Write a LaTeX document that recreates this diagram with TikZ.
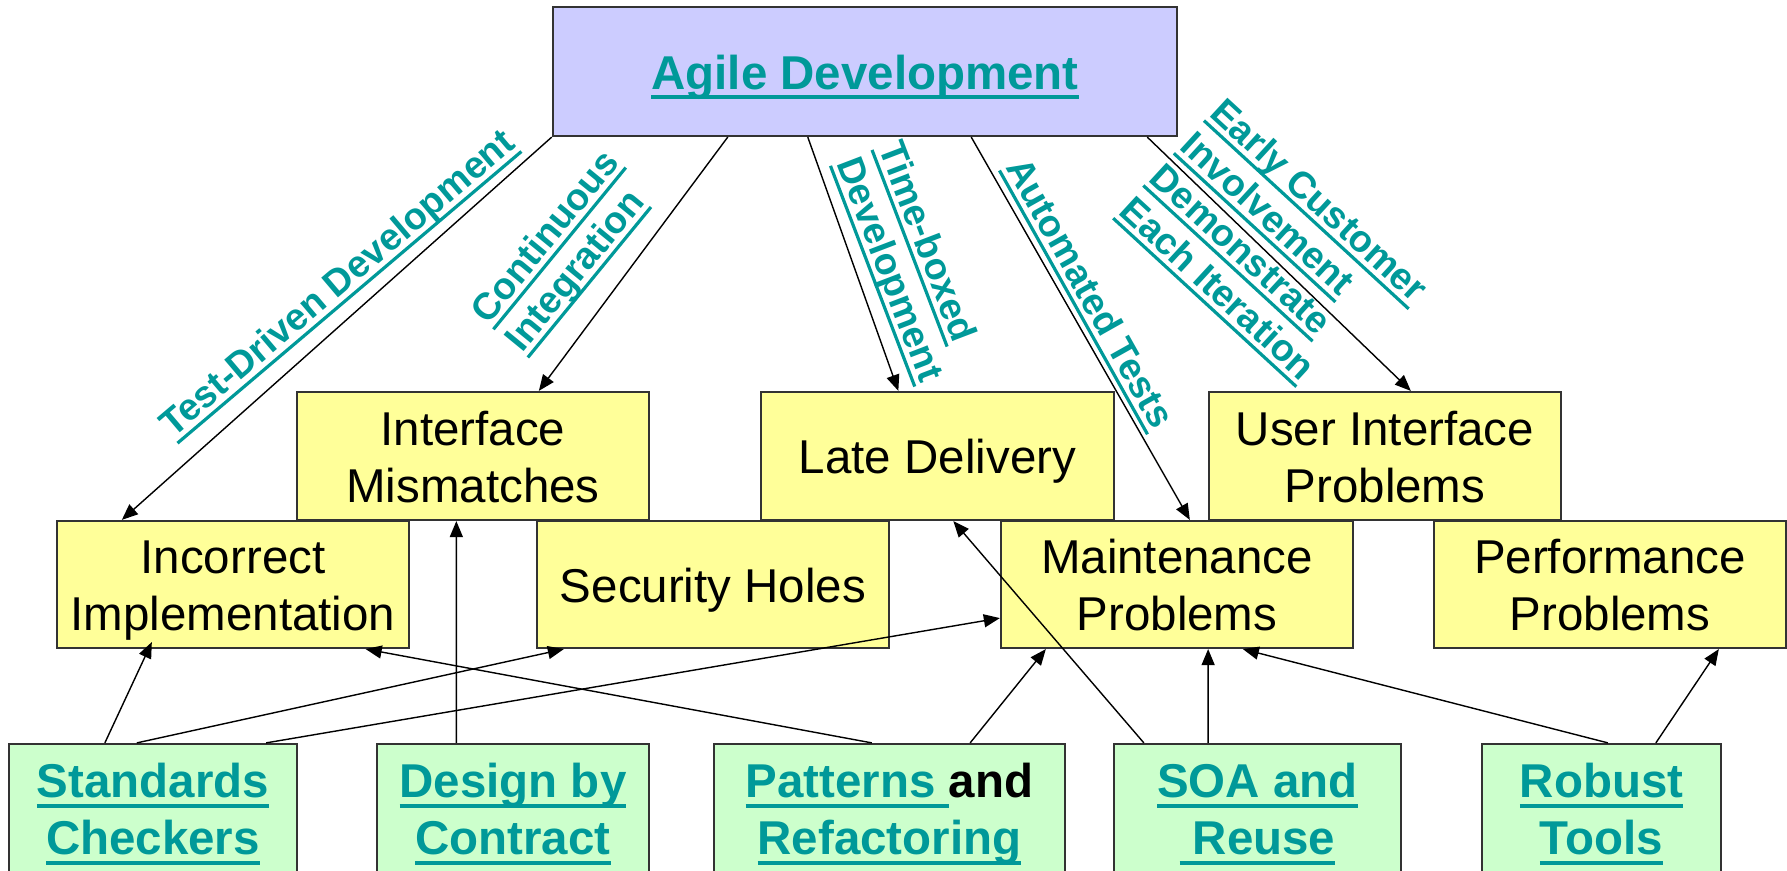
\documentclass[tikz,border=0pt]{standalone}
\usepackage{fontspec}
\setmainfont{Liberation Sans}
\usetikzlibrary{arrows.meta, calc}

\definecolor{linkteal}{RGB}{0,153,153}
\definecolor{rootfill}{RGB}{204,204,255}
\definecolor{issuefill}{RGB}{255,255,153}
\definecolor{practicefill}{RGB}{204,255,204}

% underlined link text
\newcommand{\lnk}[1]{\setbox0\hbox{#1}\rlap{\rule[-0.22em]{\wd0}{0.085em}}\box0}
% line strut, so one- and two-line boxes sit alike
\newcommand{\pstrut}{\rule[-0.22em]{0pt}{1.18em}}

\begin{document}
\begin{tikzpicture}[
    x=0.01cm, y=-0.01cm,
    % Styles
    box/.style={rectangle, draw=black!80, line width=0.6pt, inner sep=0pt, align=center, font=\fontsize{13.5}{16.2}\selectfont},
    root/.style={box, fill=rootfill, minimum width=6.24cm, minimum height=1.29cm, text=linkteal, font=\fontsize{13.5}{16.2}\selectfont\bfseries, execute at begin node=\pstrut},
    issue/.style={box, fill=issuefill, minimum width=3.52cm, minimum height=1.28cm, execute at begin node=\pstrut},
    practice/.style={box, fill=practicefill, minimum height=1.40cm, text=linkteal, font=\fontsize{13.5}{16.2}\selectfont\bfseries},
    arrow/.style={-{Triangle[length=1.6mm, width=1.3mm]}, line width=0.4pt},
    edgelabel/.style={inner sep=0pt, align=left, text=linkteal, font=\fontsize{10.7}{12.65}\selectfont\bfseries},
]
\useasboundingbox (0,0) rectangle (1787,871);
\clip (0,0) rectangle (1787,871);

% === TOP ===
\node[root] (agile) at (865,71.5) {\lnk{Agile Development}};

% === PROBLEMS ===
\node[issue] (interface) at (473,456) {\pstrut Interface\\Mismatches\pstrut};
\node[issue] (late) at (937.5,456) {Late Delivery};
\node[issue] (uiprob) at (1385,456) {\pstrut User Interface\\Problems\pstrut};
\node[issue, minimum height=1.27cm] (incorrect) at (233,584.5) {\pstrut Incorrect\\Implementation\pstrut};
\node[issue, minimum height=1.27cm] (security) at (713,584.5) {Security Holes};
\node[issue, minimum height=1.27cm] (maint) at (1177,584.5) {\pstrut Maintenance\\Problems\pstrut};
\node[issue, minimum height=1.27cm] (perf) at (1610,584.5) {\pstrut Performance\\Problems\pstrut};

% === PRACTICES ===
\node[practice, minimum width=2.88cm] (standards) at (153,814) {\lnk{Standards}\\\lnk{Checkers}};
\node[practice, minimum width=2.72cm] (dbc) at (513,814) {\lnk{Design by}\\\lnk{Contract}};
\node[practice, minimum width=3.51cm] (patterns) at (889.5,814) {\lnk{Patterns }{\color{black}and}\\\lnk{Refactoring}};
\node[practice, minimum width=2.87cm] (soa) at (1257.5,814) {\lnk{SOA and}\\\lnk{ Reuse}};
\node[practice, minimum width=2.39cm] (robust) at (1601.5,814) {\lnk{Robust}\\\lnk{Tools}};

% Agile arrows
\draw[arrow] (agile.south west) -- ($(incorrect.north west)+(66,0)$);
\draw[arrow] ($(agile.south west)+(176,0)$) -- ($(interface.north west)+(243,0)$);
\draw[arrow] ($(agile.south west)+(256,0)$) -- ($(late.north west)+(138,0)$);
\draw[arrow] ($(agile.south east)+(-207,0)$) -- ($(maint.north west)+(190,0)$);
\draw[arrow] ($(agile.south east)+(-31,0)$) -- ($(uiprob.north west)+(203,0)$);

% Practice arrows
\draw[arrow] ($(standards.north west)+(97,0)$) -- ($(incorrect.south west)+(96,-7)$);
\draw[arrow] ($(standards.north west)+(129,0)$) -- ($(security.south west)+(28,0)$);
\draw[arrow] ($(standards.north east)+(-32,0)$) -- ($(maint.south west)+(0,-31)$);
\draw[arrow] ($(dbc.north west)+(80.5,0)$) -- ($(interface.south west)+(160.5,0)$);
\draw[arrow] ($(patterns.north west)+(159,0)$) -- ($(incorrect.south east)+(-44.5,0)$);
\draw[arrow] ($(patterns.north east)+(-96,0)$) -- ($(maint.south west)+(46,0)$);
\draw[arrow] ($(soa.north west)+(31,0)$) -- ($(late.south west)+(193,0)$);
\draw[arrow] ($(soa.north west)+(95.3,0)$) -- ($(maint.south west)+(208.3,0)$);
\draw[arrow] ($(robust.north west)+(127,0)$) -- ($(maint.south west)+(243,0)$);
\draw[arrow] ($(robust.north west)+(175,0)$) -- ($(perf.south west)+(286,0)$);

% Edge labels
\node[edgelabel, rotate=40.3] (lbltdd) at (339,285) {\lnk{Test-Driven Development}};
\node[edgelabel, rotate=50.7] (lblci) at (564.3,252.3) {\lnk{Continuous}\\\lnk{Integration}};
\node[edgelabel, rotate=-69.1] (lbltime) at (908.5,262.5) {\lnk{Time-boxed}\\\lnk{Development}};
\node[edgelabel, rotate=-60.7] (lblauto) at (1087.6,294.5) {\lnk{Automated Tests}};
\node[edgelabel, rotate=-42.6] (lblearly) at (1302.2,219.2) {\lnk{Early Customer}\\\lnk{Involvement}};
\node[edgelabel, rotate=-42.6] (lbldemo) at (1230.3,274.7) {\lnk{Demonstrate}\\\lnk{Each Iteration}};

\end{tikzpicture}
\end{document}
